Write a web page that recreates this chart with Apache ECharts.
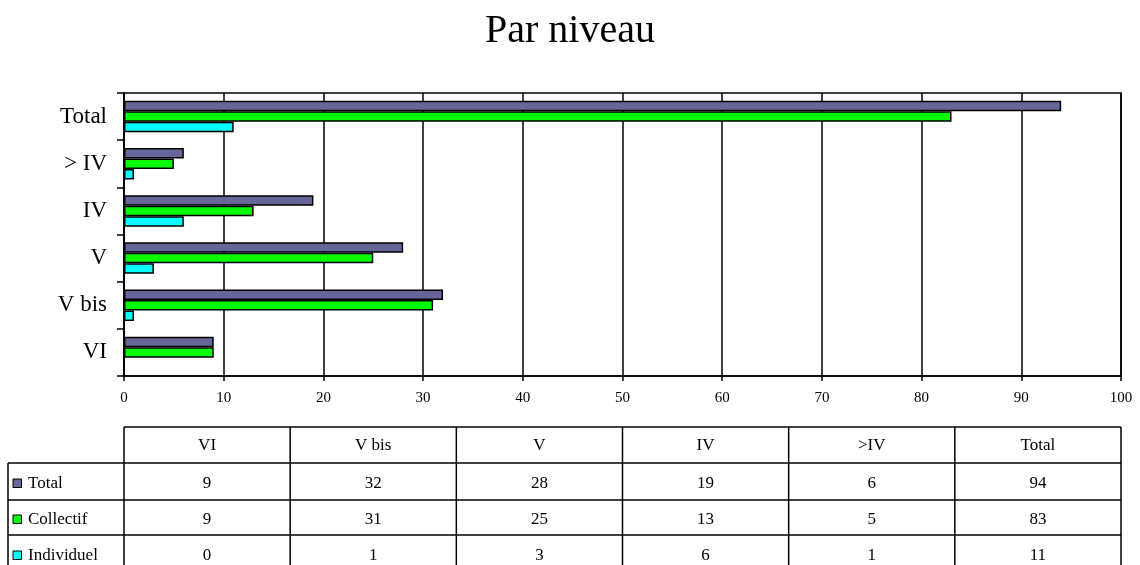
<!DOCTYPE html>
<html>
<head>
<meta charset="utf-8">
<title>Par niveau</title>
<script src="https://cdn.jsdelivr.net/npm/echarts@6/dist/echarts.min.js"></script>
<style>
    html, body { margin: 0; padding: 0; background: #fff; }
    #chart { width: 1140px; height: 565px; }
</style>
</head>
<body>
<div id="chart"></div>
<script>
// Data
const niveaux = ['VI', 'V bis', 'V', 'IV', '> IV', 'Total'];
const tableHeads = ['VI', 'V bis', 'V', 'IV', '>IV', 'Total'];
const seriesNames = ['Total', 'Collectif', 'Individuel'];
const totalValues = [9, 32, 28, 19, 6, 94];
const collectifValues = [9, 31, 25, 13, 5, 83];
const individuelValues = [0, 1, 3, 6, 1, 11];
const xTicks = [0, 10, 20, 30, 40, 50, 60, 70, 80, 90, 100];

const colors = ['#666699', '#00ff00', '#00ffff'];
const FONT = '"Liberation Serif", "Times New Roman", serif';

// Plot area (px)
const plotLeft = 124, plotRight = 1121, plotTop = 93, plotBottom = 376;

// Data table below the plot
function buildTable() {
    const els = [];
    const colW = (plotRight - plotLeft) / tableHeads.length;
    const rowY = [427, 463, 500, 535, 572];
    const labelLeft = 8;
    const rows = [totalValues, collectifValues, individuelValues];
    const line = (x1, y1, x2, y2) => ({
        type: 'line',
        shape: { x1, y1, x2, y2 },
        style: { stroke: '#000', lineWidth: 1.5 },
        silent: true
    });
    const text = (x, y, str, align) => ({
        type: 'text',
        x, y,
        style: { text: str, font: '17px ' + FONT, fill: '#000', align: align || 'center', verticalAlign: 'middle' },
        silent: true
    });

    // horizontal lines
    els.push(line(plotLeft, rowY[0], plotRight, rowY[0]));
    for (let r = 1; r < rowY.length; r++) {
        els.push(line(labelLeft, rowY[r], plotRight, rowY[r]));
    }
    // vertical lines
    els.push(line(labelLeft, rowY[1], labelLeft, rowY[4]));
    for (let c = 0; c <= tableHeads.length; c++) {
        const x = plotLeft + c * colW;
        els.push(line(x, rowY[0], x, rowY[4]));
    }
    // header
    tableHeads.forEach((h, c) => {
        els.push(text(plotLeft + (c + 0.5) * colW, (rowY[0] + rowY[1]) / 2 + 1, h));
    });
    // rows
    rows.forEach((vals, r) => {
        const cy = (rowY[r + 1] + rowY[r + 2]) / 2 + 2;
        els.push({
            type: 'rect',
            shape: { x: 13, y: cy - 4.5, width: 8.5, height: 8.5 },
            style: { fill: colors[r], stroke: '#000', lineWidth: 1 },
            silent: true
        });
        els.push(text(28, cy, seriesNames[r], 'left'));
        vals.forEach((v, c) => {
            els.push(text(plotLeft + (c + 0.5) * colW, cy, String(v)));
        });
    });
    return els;
}

const chart = echarts.init(document.getElementById('chart'));

const seriesData = [totalValues, collectifValues, individuelValues];

chart.setOption({
    animation: false,
    backgroundColor: '#fff',
    title: {
        text: 'Par niveau',
        left: 'center',
        top: 6,
        textStyle: { fontFamily: FONT, fontSize: 40, fontWeight: 'normal', color: '#000' }
    },
    grid: {
        left: plotLeft,
        right: 1140 - plotRight,
        top: plotTop,
        bottom: 565 - plotBottom,
        show: true,
        borderColor: '#000',
        borderWidth: 1.5
    },
    xAxis: {
        type: 'value',
        min: 0,
        max: 100,
        interval: 10,
        axisLine: { show: true, lineStyle: { color: '#000', width: 1.5 } },
        axisTick: { show: true, length: 5, lineStyle: { color: '#000', width: 1.5 } },
        splitLine: { show: true, lineStyle: { color: '#000', width: 1.5 } },
        axisLabel: {
            fontFamily: FONT, fontSize: 15, color: '#000', margin: 15,
            formatter: v => (xTicks.indexOf(v) >= 0 ? String(v) : '')
        }
    },
    yAxis: {
        type: 'category',
        data: niveaux,
        axisLine: { show: true, lineStyle: { color: '#000', width: 1.5 } },
        axisTick: { show: true, length: 7, lineStyle: { color: '#000', width: 1.5 } },
        axisLabel: { fontFamily: FONT, fontSize: 23, color: '#000', margin: 17 }
    },
    series: seriesNames.map((name, i) => ({
        name,
        type: 'bar',
        data: seriesData[i],
        barWidth: 10.5,
        barGap: '0%',
        itemStyle: { color: colors[i], borderColor: '#000', borderWidth: 1.5 }
    })),
    graphic: buildTable()
});
</script>
</body>
</html>
